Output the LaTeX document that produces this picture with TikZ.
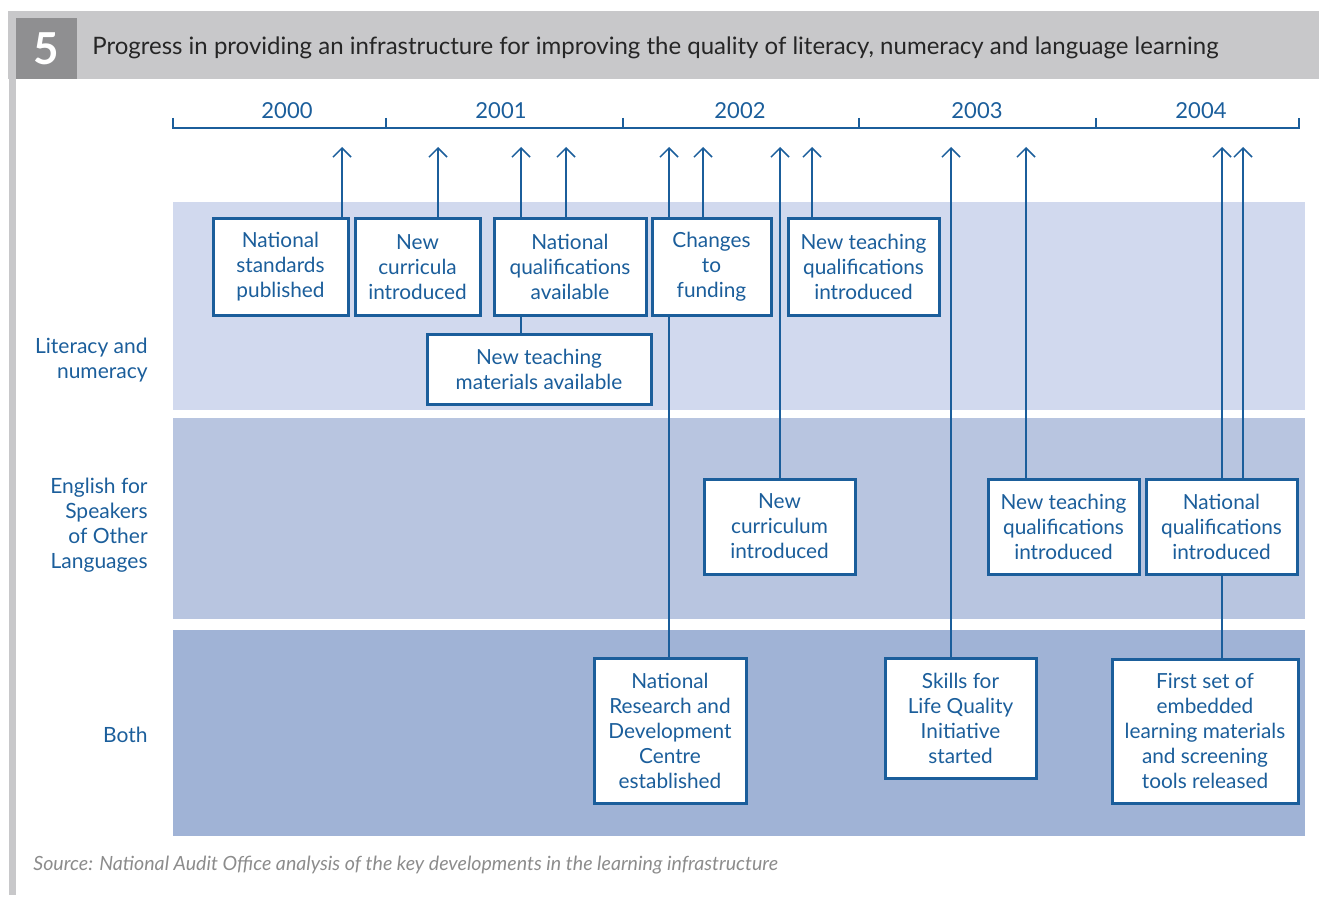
\documentclass[tikz,border=0pt]{standalone}
\usepackage{fontspec}
\setmainfont{Lato}
\usetikzlibrary{arrows.meta}

\definecolor{nablue}{HTML}{1B5E9B}
\definecolor{bandone}{HTML}{D1D9EE}
\definecolor{bandtwo}{HTML}{B8C5E0}
\definecolor{bandthree}{HTML}{A0B3D6}
\definecolor{headgray}{HTML}{C8C8CA}
\definecolor{numgray}{HTML}{8F8F91}

\begin{document}
\begin{tikzpicture}[x=0.5pt, y=-0.5pt,
    event/.style = {draw=nablue, line width=1.5pt, fill=white, text=nablue,
        align=center, inner sep=0pt, font=\fontsize{10.4}{12.5}\selectfont},
    side/.style = {anchor=east, align=right, inner sep=0pt, text=nablue, font=\fontsize{10.5}{12.5}\selectfont},
    year/.style = {text=nablue, font=\fontsize{11}{13}\selectfont},
    arr/.style = {nablue, line width=0.75pt, -{Straight Barb[length=4.5pt, width=9pt]}},
    link/.style = {nablue, line width=0.75pt}]
    \useasboundingbox (0,0) rectangle (1319,899);
    % header and frame
    \fill[headgray] (8,11) rectangle (1319,79);
    \fill[headgray] (9,79) rectangle (16,895);
    \fill[numgray] (16,18) rectangle (77,79);
    \node[text=white, font=\fontsize{22}{22}\bfseries\selectfont] (num) at (46.5,49) {5};
    \node[anchor=west, inner sep=0pt, text=black!85, font=\fontsize{12}{14}\selectfont] (title) at (92,48)
        {Progress in providing an infrastructure for improving the quality of literacy, numeracy and language learning};
    % bands
    \fill[bandone] (173,202) rectangle (1305,410);
    \fill[bandtwo] (173,418) rectangle (1305,619);
    \fill[bandthree] (173,630) rectangle (1305,836);
    \node[side] (lit) at (148,360) {Literacy and\\numeracy};
    \node[side] (esol) at (148,525) {English for\\Speakers\\of Other\\Languages};
    \node[side] (both) at (148,735) {Both};
    % time axis
    \draw[link] (173,118) -- (173,128) -- (1299,128) -- (1299,118);
    \foreach \t in {386,623,859,1096}
        \draw[link] (\t,118) -- (\t,128);
    \foreach \y/\x in {2000/287,2001/501,2002/740,2003/977,2004/1201}
        \node[year] (y\y) at (\x,111) {\y};
    % events
    \node[event, minimum width=67.5pt, minimum height=48pt] (nsp) at (280.5,267) {National\\standards\\published};
    \node[event, minimum width=62.5pt, minimum height=48pt] (ncu) at (417.5,267) {New\\curricula\\introduced};
    \node[event, minimum width=76pt, minimum height=48pt] (nqa) at (570,267) {National\\qualifications\\available};
    \node[event, minimum width=59.5pt, minimum height=48pt] (ctf) at (711.5,267) {Changes\\to\\funding};
    \node[event, minimum width=75.5pt, minimum height=48pt] (ntq) at (863.5,267) {New teaching\\qualifications\\introduced};
    \node[event, minimum width=112pt, minimum height=35pt] (ntm) at (539,369) {New teaching\\materials available};
    \node[event, minimum width=75.5pt, minimum height=47.5pt] (nci) at (779.5,526.5) {New\\curriculum\\introduced};
    \node[event, minimum width=75.5pt, minimum height=47.5pt] (ntqe) at (1063.5,526.5) {New teaching\\qualifications\\introduced};
    \node[event, minimum width=75.5pt, minimum height=47.5pt] (nqi) at (1221.5,526.5) {National\\qualifications\\introduced};
    \node[event, minimum width=76pt, minimum height=72.5pt] (nrdc) at (670,730.5) {National\\Research and\\Development\\Centre\\established};
    \node[event, minimum width=75.5pt, minimum height=60pt] (sfl) at (960.5,718) {Skills for\\Life Quality\\Initiative\\started};
    \node[event, minimum width=93pt, minimum height=72pt] (fse) at (1205,731) {First set of\\embedded\\learning materials\\and screening\\tools released};
    % arrow tips under the axis
    \foreach \n/\x in {a1/342,a2/438,a3/521,a4/566,a5/669,a6/703,a7/780,a8/812,a9/951,a10/1026,a11/1222,a12/1243}
        \coordinate (\n) at (\x,147);
    \draw[arr] (a1 |- nsp.north) -- (a1);
    \draw[arr] (a2 |- ncu.north) -- (a2);
    \draw[arr] (a3 |- nqa.north) -- (a3);
    \draw[link] (a3 |- ntm.north) -- (a3 |- nqa.south);
    \draw[arr] (a4 |- nqa.north) -- (a4);
    \draw[arr] (a5 |- ctf.north) -- (a5);
    \draw[link] (a5 |- nrdc.north) -- (a5 |- ctf.south);
    \draw[arr] (a6 |- ctf.north) -- (a6);
    \draw[arr] (a7 |- nci.north) -- (a7);
    \draw[arr] (a8 |- ntq.north) -- (a8);
    \draw[arr] (a9 |- sfl.north) -- (a9);
    \draw[arr] (a10 |- ntqe.north) -- (a10);
    \draw[arr] (a11 |- nqi.north) -- (a11);
    \draw[link] (a11 |- fse.north) -- (a11 |- nqi.south);
    \draw[arr] (a12 |- nqi.north) -- (a12);
    % source
    \node[anchor=west, inner sep=0pt, text=black!45, font=\fontsize{9.8}{11}\itshape\selectfont] (src) at (33,865)
        {Source: National Audit Office analysis of the key developments in the learning infrastructure};
\end{tikzpicture}
\end{document}
